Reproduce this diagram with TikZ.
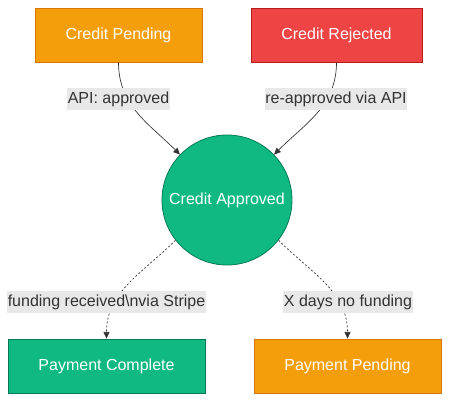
\documentclass[tikz,border=0pt]{standalone}
\usepackage{fontspec}
\setmainfont{Liberation Sans}
\usetikzlibrary{arrows.meta}
\definecolor{amber}{HTML}{F59E0B}
\definecolor{amberdark}{HTML}{D97706}
\definecolor{redfill}{HTML}{EF4444}
\definecolor{reddark}{HTML}{B91C1C}
\definecolor{greenfill}{HTML}{10B981}
\definecolor{greendark}{HTML}{047857}
\definecolor{edgegray}{HTML}{333333}
\definecolor{labelbg}{HTML}{E8E8E8}
\tikzset{
  state/.style={draw, line width=0.6pt, text=white, font=\fontsize{12}{14}\selectfont,
    minimum height=40.5pt, inner sep=0pt},
  hub/.style={circle, draw=greendark, fill=greenfill, line width=0.6pt, text=white,
    font=\fontsize{12}{14}\selectfont, minimum size=97.5pt, inner sep=0pt},
  edgelabel/.style={fill=labelbg, text=edgegray, font=\fontsize{12}{14}\selectfont,
    inner xsep=0.5pt, inner ysep=3pt},
  flow/.style={draw=edgegray, line width=0.5pt, -{Triangle[length=5pt,width=4.5pt]}},
  slowflow/.style={flow, dash pattern=on 1.5pt off 1.5pt}
}
\begin{document}
\begin{tikzpicture}[x=0.75pt,y=-0.75pt]
\useasboundingbox (0,0) rectangle (449,402);
\node[state, fill=amber, draw=amberdark, minimum width=125.25pt] (pending) at (118.5,35) {Credit Pending};
\node[state, fill=redfill, draw=reddark, minimum width=128.25pt] (rejected) at (336.5,35) {Credit Rejected};
\node[hub] (approved) at (227,200) {Credit Approved};
\node[state, fill=greenfill, draw=greendark, minimum width=147.75pt] (complete) at (106.5,366) {Payment Complete};
\node[state, fill=amber, draw=amberdark, minimum width=140.25pt] (paypending) at (347.5,366) {Payment Pending};
\draw[flow] (pending.south) to[out=-90,in=135] (approved.136);
\draw[flow] (rejected.south) to[out=-90,in=45] (approved.44);
\draw[slowflow] (approved.218) to[out=225,in=90] (complete.north);
\draw[slowflow] (approved.322) to[out=-45,in=90] (paypending.north);
\node[edgelabel] (lapi) at (118.5,99) {API: approved};
\node[edgelabel] (lre) at (336,99) {re-approved via API};
\node[edgelabel] (lfund) at (106.5,302) {funding received\textbackslash nvia Stripe};
\node[edgelabel] (lxdays) at (348,302) {X days no funding};
\end{tikzpicture}
\end{document}
